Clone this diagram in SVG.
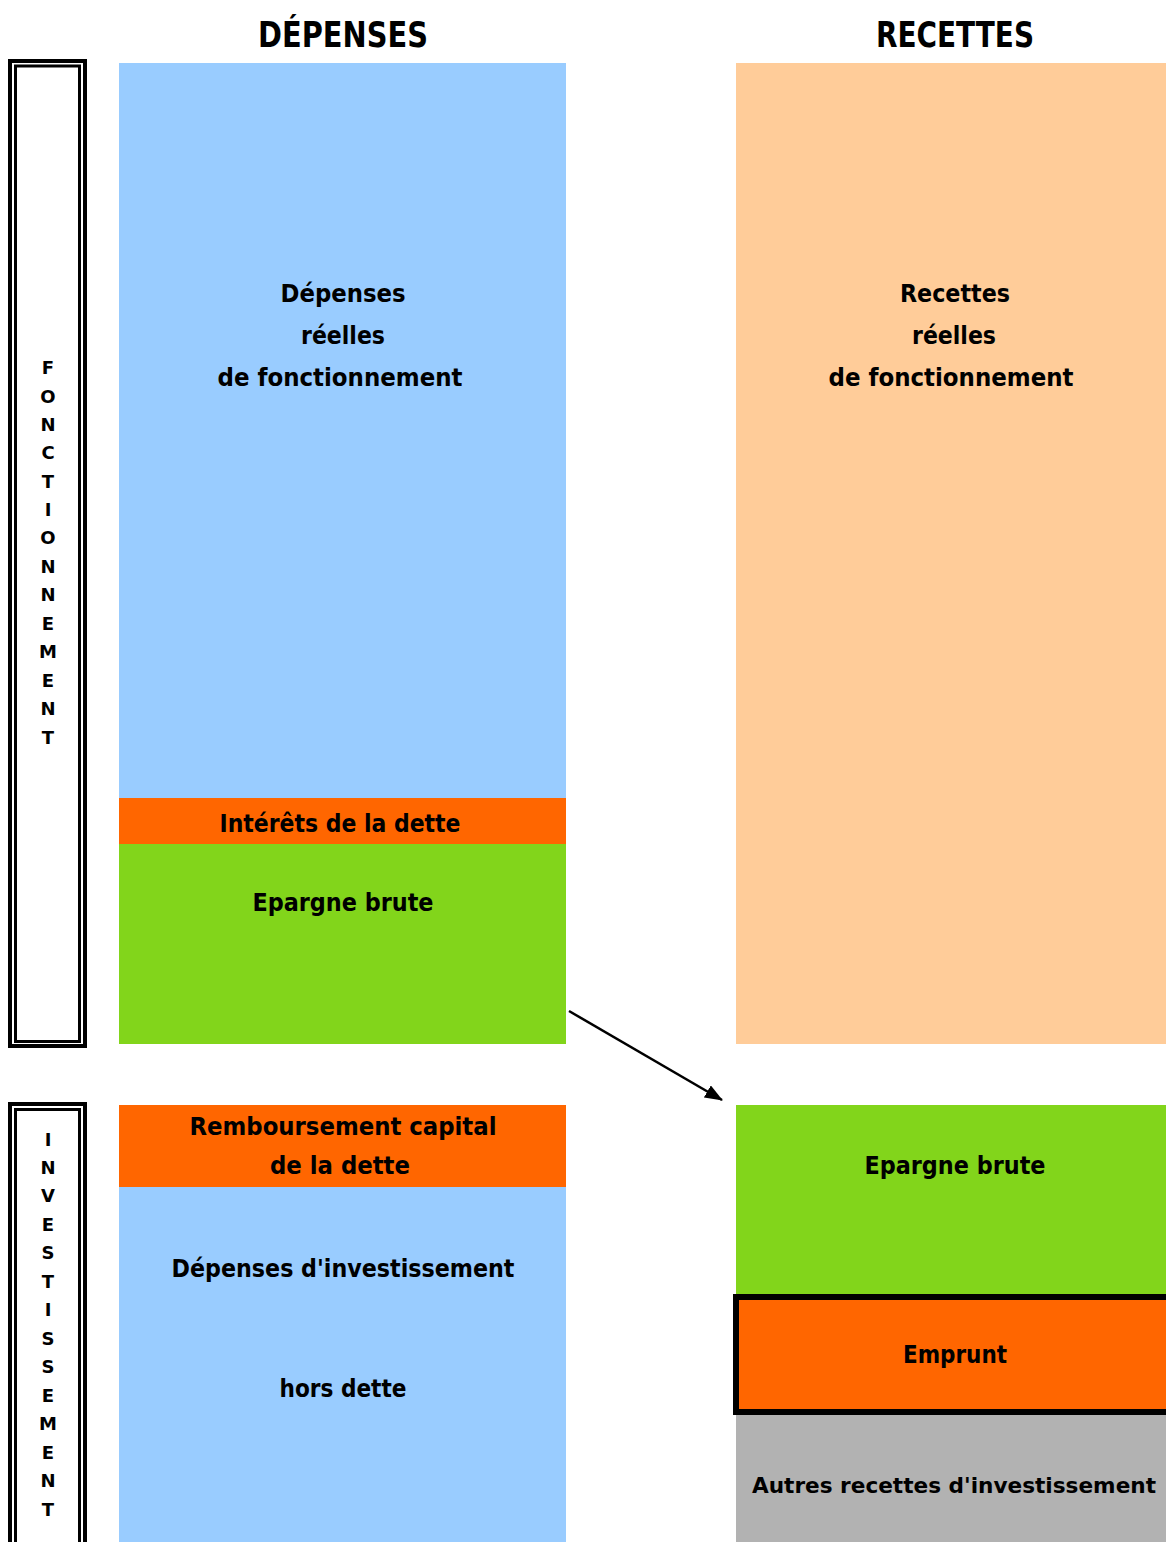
<svg xmlns="http://www.w3.org/2000/svg" width="1166" height="1542" viewBox="0 0 1166 1542">
<style>
text{font-family:"DejaVu Sans","Liberation Sans",sans-serif;font-weight:bold;fill:#000;text-anchor:middle}
.b{font-size:24px}
.t{font-size:35px}
.v{font-size:18px}
.blue{fill:#99ccff}.peach{fill:#ffcc99}.orange{fill:#ff6600}.green{fill:#82d51b}.gray{fill:#b2b2b2}
.fo{fill:none;stroke:#000;stroke-width:4}
.fi{fill:none;stroke:#000;stroke-width:3}
</style>
<defs>
<marker id="ah" markerWidth="18" markerHeight="14" refX="17" refY="7" orient="auto" markerUnits="userSpaceOnUse" viewBox="0 0 18 14">
<path d="M0,0 L18,7 L0,14 Z" fill="#000"/>
</marker>
</defs>
<rect width="1166" height="1542" fill="#fff"/>
<g id="titles">
<text class="t" x="343" y="47" textLength="170" lengthAdjust="spacingAndGlyphs">DÉPENSES</text>
<text class="t" x="955" y="47" textLength="158" lengthAdjust="spacingAndGlyphs">RECETTES</text>
</g>
<g id="frame-fonctionnement">
<rect class="fo" x="10" y="61" width="75" height="985"/>
<rect class="fi" x="15.5" y="66" width="64" height="975.5"/>
<text class="v" x="48" y="374">F</text>
<text class="v" x="48" y="403">O</text>
<text class="v" x="48" y="431">N</text>
<text class="v" x="48" y="459">C</text>
<text class="v" x="48" y="488">T</text>
<text class="v" x="48" y="516">I</text>
<text class="v" x="48" y="544">O</text>
<text class="v" x="48" y="573">N</text>
<text class="v" x="48" y="601">N</text>
<text class="v" x="48" y="630">E</text>
<text class="v" x="48" y="658">M</text>
<text class="v" x="48" y="687">E</text>
<text class="v" x="48" y="715">N</text>
<text class="v" x="48" y="744">T</text>
</g>
<g id="frame-investissement">
<rect class="fo" x="10" y="1104" width="75" height="460"/>
<rect class="fi" x="15.5" y="1109.5" width="64" height="460"/>
<text class="v" x="48" y="1146">I</text>
<text class="v" x="48" y="1174">N</text>
<text class="v" x="48" y="1202">V</text>
<text class="v" x="48" y="1231">E</text>
<text class="v" x="48" y="1259">S</text>
<text class="v" x="48" y="1288">T</text>
<text class="v" x="48" y="1316">I</text>
<text class="v" x="48" y="1345">S</text>
<text class="v" x="48" y="1373">S</text>
<text class="v" x="48" y="1402">E</text>
<text class="v" x="48" y="1430">M</text>
<text class="v" x="48" y="1459">E</text>
<text class="v" x="48" y="1487">N</text>
<text class="v" x="48" y="1516">T</text>
</g>
<g id="dep-fonct">
<rect class="blue" x="119" y="63" width="447" height="735"/>
<text class="b" x="343" y="302" textLength="125" lengthAdjust="spacingAndGlyphs">Dépenses</text>
<text class="b" x="343" y="344" textLength="84" lengthAdjust="spacingAndGlyphs">réelles</text>
<text class="b" x="340" y="386" textLength="245" lengthAdjust="spacingAndGlyphs">de fonctionnement</text>
</g>
<g id="interets">
<rect class="orange" x="119" y="798" width="447" height="46"/>
<text class="b" x="340" y="832" textLength="241" lengthAdjust="spacingAndGlyphs">Intérêts de la dette</text>
</g>
<g id="epargne-dep">
<rect class="green" x="119" y="844" width="447" height="200"/>
<text class="b" x="343" y="911" textLength="181" lengthAdjust="spacingAndGlyphs">Epargne brute</text>
</g>
<g id="rec-fonct">
<rect class="peach" x="736" y="63" width="430" height="981"/>
<text class="b" x="955" y="302" textLength="110" lengthAdjust="spacingAndGlyphs">Recettes</text>
<text class="b" x="954" y="344" textLength="84" lengthAdjust="spacingAndGlyphs">réelles</text>
<text class="b" x="951" y="386" textLength="245" lengthAdjust="spacingAndGlyphs">de fonctionnement</text>
</g>
<g id="remboursement">
<rect class="orange" x="119" y="1105" width="447" height="82"/>
<text class="b" x="343" y="1135" textLength="307" lengthAdjust="spacingAndGlyphs">Remboursement capital</text>
<text class="b" x="340" y="1174" textLength="140" lengthAdjust="spacingAndGlyphs">de la dette</text>
</g>
<g id="dep-invest">
<rect class="blue" x="119" y="1187" width="447" height="355"/>
<text class="b" x="343" y="1277" textLength="343" lengthAdjust="spacingAndGlyphs">Dépenses d'investissement</text>
<text class="b" x="343" y="1397" textLength="127" lengthAdjust="spacingAndGlyphs">hors dette</text>
</g>
<g id="epargne-rec">
<rect class="green" x="736" y="1105" width="430" height="192"/>
<text class="b" x="955" y="1174" textLength="181" lengthAdjust="spacingAndGlyphs">Epargne brute</text>
</g>
<g id="autres">
<rect class="gray" x="736" y="1412" width="430" height="130"/>
<text x="954" y="1493" font-size="21" textLength="404" lengthAdjust="spacingAndGlyphs">Autres recettes d'investissement</text>
</g>
<g id="emprunt">
<rect class="orange" x="736" y="1297" width="436" height="115" stroke="#000" stroke-width="6"/>
<text class="b" x="955" y="1363" textLength="104" lengthAdjust="spacingAndGlyphs">Emprunt</text>
</g>
<g id="connectors">
<line x1="569" y1="1011" x2="722" y2="1100" stroke="#000" stroke-width="2.5" marker-end="url(#ah)"/>
</g>
</svg>
